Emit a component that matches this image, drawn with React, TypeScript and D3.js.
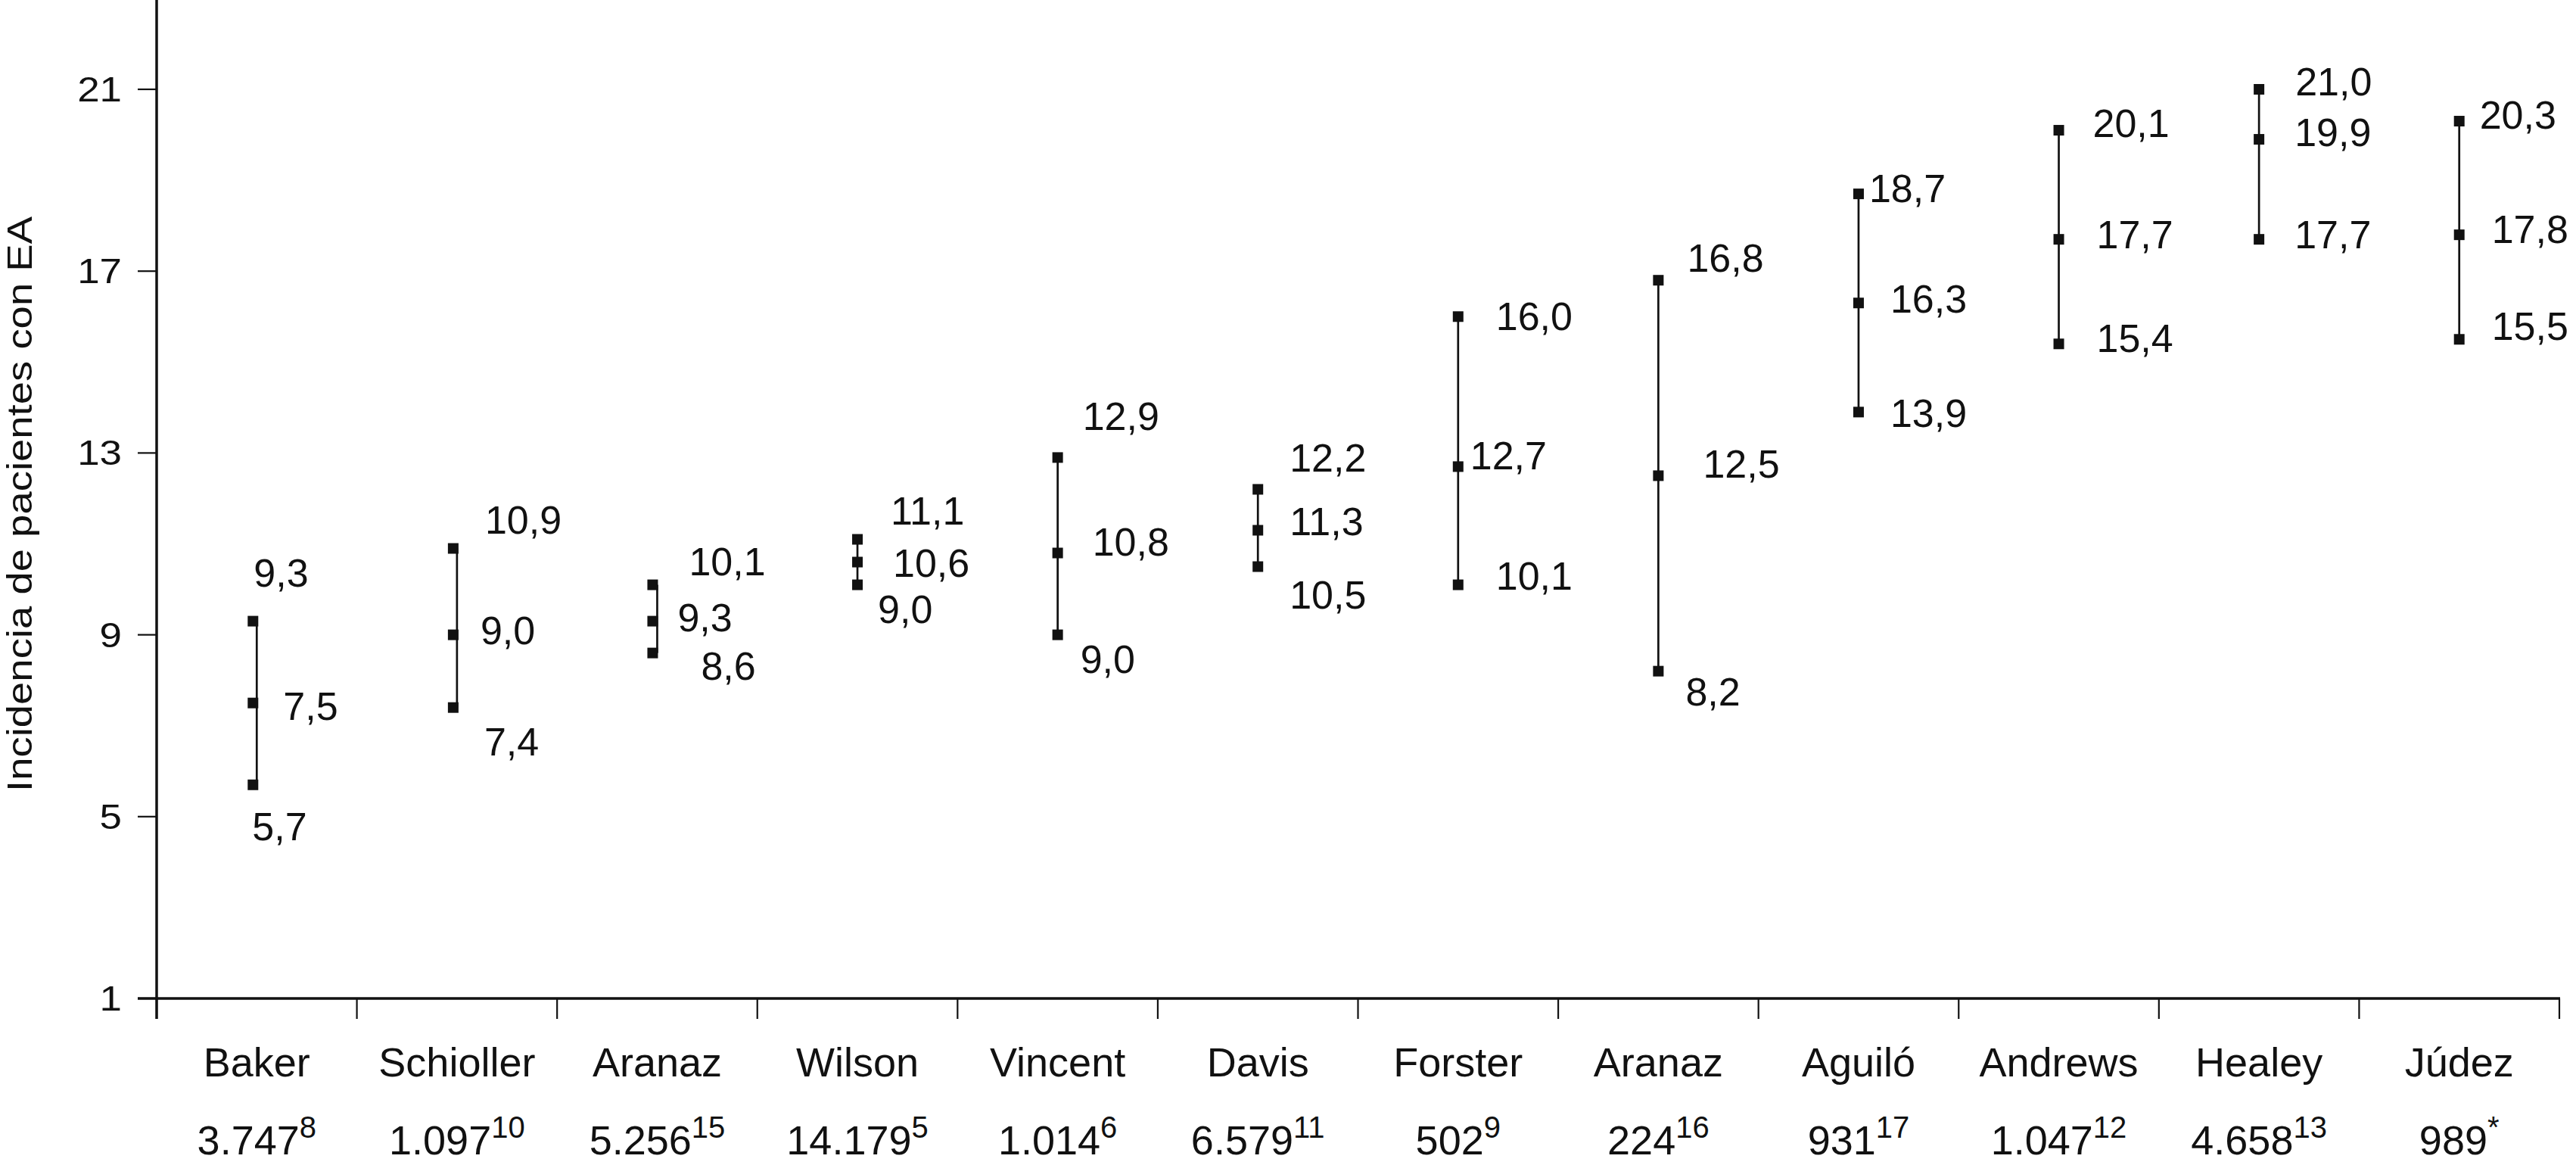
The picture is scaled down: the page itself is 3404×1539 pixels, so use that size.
import React from "react";
import * as d3 from "d3";

const studies = ["Baker", "Schioller", "Aranaz", "Wilson", "Vincent", "Davis", "Forster", "Aranaz", "Aguiló", "Andrews", "Healey", "Júdez"];
const sampleSizes = ["3.747", "1.097", "5.256", "14.179", "1.014", "6.579", "502", "224", "931", "1.047", "4.658", "989"];
const references = ["8", "10", "15", "5", "6", "11", "9", "16", "17", "12", "13", "*"];

const lowValues = [5.7, 7.4, 8.6, 10.1, 9.0, 10.5, 10.1, 8.2, 13.9, 15.4, 17.7, 15.5];
const midValues = [7.5, 9.0, 9.3, 10.6, 10.8, 11.3, 12.7, 12.5, 16.3, 17.7, 19.9, 17.8];
const highValues = [9.3, 10.9, 10.1, 11.1, 12.9, 12.2, 16.0, 16.8, 18.7, 20.1, 21.0, 20.3];

const lowLabels = ["5,7", "7,4", "8,6", "9,0", "9,0", "10,5", "10,1", "8,2", "13,9", "15,4", "17,7", "15,5"];
const midLabels = ["7,5", "9,0", "9,3", "10,6", "10,8", "11,3", "12,7", "12,5", "16,3", "17,7", "19,9", "17,8"];
const highLabels = ["9,3", "10,9", "10,1", "11,1", "12,9", "12,2", "16,0", "16,8", "18,7", "20,1", "21,0", "20,3"];

const yTicks = [1, 5, 9, 13, 17, 21];
const yTitle = "Incidencia de pacientes con EA";

// layout: label offsets [dx, dy] from band centre / marker
const highOffsets = [[-4, -46], [37, -20], [42, -13], [44, -19], [33, -36], [42, -23], [50, 18], [38, -11], [14, 11], [45, 9], [48, 8], [27, 10]];
const midOffsets = [[35, 22], [31, 12], [27, 13], [47, 19], [46, 3], [42, 7], [16, 4], [59, 3], [42, 13], [50, 12], [47, 9], [43, 11]];
const lowOffsets = [[-6, 73], [36, 63], [58, 35], [27, 50], [30, 50], [42, 55], [50, 6], [36, 45], [42, 20], [50, 11], [47, 12], [43, 1]];
const squareShift = [-5, -5, -6, 0, 0, 0, 0, 0, 0, 0, 0, 0];

const W = 3404;
const H = 1539;
const left = 207;
const right = 3382;
const axisY = 1319;
const FONT = "'Liberation Sans', Arial, Helvetica, sans-serif";
const INK = "#111";

export default function App() {
  const idx = studies.map((_, i) => i);
  const x = d3.scaleBand<number>().domain(idx).range([left, right]).padding(0);
  const y = d3.scaleLinear().domain([1, 23]).range([axisY, axisY - 22 * 60.05]);
  const cx = (i: number) => (x(i) as number) + x.bandwidth() / 2;
  const sq = 14;
  const boundaries = idx.map((i) => x(i) as number).concat([right]);

  const renderLabel = (i: number, v: number, text: string, off: number[], key: string) => (
    <text key={key} x={cx(i) + off[0]} y={y(v) + off[1]} fontSize={52} fontFamily={FONT} fill={INK}>
      {text}
    </text>
  );

  return (
    <svg width={W} height={H} style={{ position: "absolute", left: 0, top: 0, background: "#fff", display: "block" }}>
      <rect x={0} y={0} width={W} height={H} fill="#fff" />
      {/* y axis title */}
      <text
        transform={`translate(42, 666) rotate(-90)`}
        textAnchor="middle"
        fontSize={46}
        fontFamily={FONT}
        fill={INK}
        textLength={760}
        lengthAdjust="spacingAndGlyphs"
      >
        {yTitle}
      </text>
      {/* y axis */}
      <line x1={left} x2={left} y1={0} y2={axisY + 27} stroke={INK} strokeWidth={3.5} />
      {yTicks.map((t) => (
        <g key={t}>
          <line x1={182} x2={left} y1={y(t)} y2={y(t)} stroke={INK} strokeWidth={2.2} />
          <g transform={`translate(161, ${y(t) + 16}) scale(1.15, 1)`}>
            <text x={0} y={0} textAnchor="end" fontSize={46} fontFamily={FONT} fill={INK}>
              {t}
            </text>
          </g>
        </g>
      ))}
      {/* x axis */}
      <line x1={182} x2={right + 1} y1={axisY} y2={axisY} stroke={INK} strokeWidth={3.3} />
      {boundaries.map((b, i) => (
        <line key={i} x1={b} x2={b} y1={axisY} y2={axisY + 27} stroke={INK} strokeWidth={2.2} />
      ))}
      {idx.map((i) => (
        <g key={"c" + i}>
          <text x={cx(i)} y={1422} textAnchor="middle" fontSize={54} fontFamily={FONT} fill={INK}>
            {studies[i]}
          </text>
          <text x={cx(i)} y={1525} textAnchor="middle" fontSize={54} fontFamily={FONT} fill={INK}>
            {sampleSizes[i]}
            <tspan fontSize={40} dy={-22}>{references[i]}</tspan>
          </text>
        </g>
      ))}
      {/* error bars */}
      {idx.map((i) => (
        <g key={"b" + i}>
          <line x1={cx(i)} x2={cx(i)} y1={y(highValues[i])} y2={y(lowValues[i])} stroke={INK} strokeWidth={2.7} />
          {[lowValues[i], midValues[i], highValues[i]].map((v, k) => (
            <rect key={k} x={cx(i) + squareShift[i] - sq / 2} y={y(v) - sq / 2} width={sq} height={sq} fill={INK} />
          ))}
          {renderLabel(i, highValues[i], highLabels[i], highOffsets[i], "h")}
          {renderLabel(i, midValues[i], midLabels[i], midOffsets[i], "m")}
          {renderLabel(i, lowValues[i], lowLabels[i], lowOffsets[i], "l")}
        </g>
      ))}
    </svg>
  );
}
